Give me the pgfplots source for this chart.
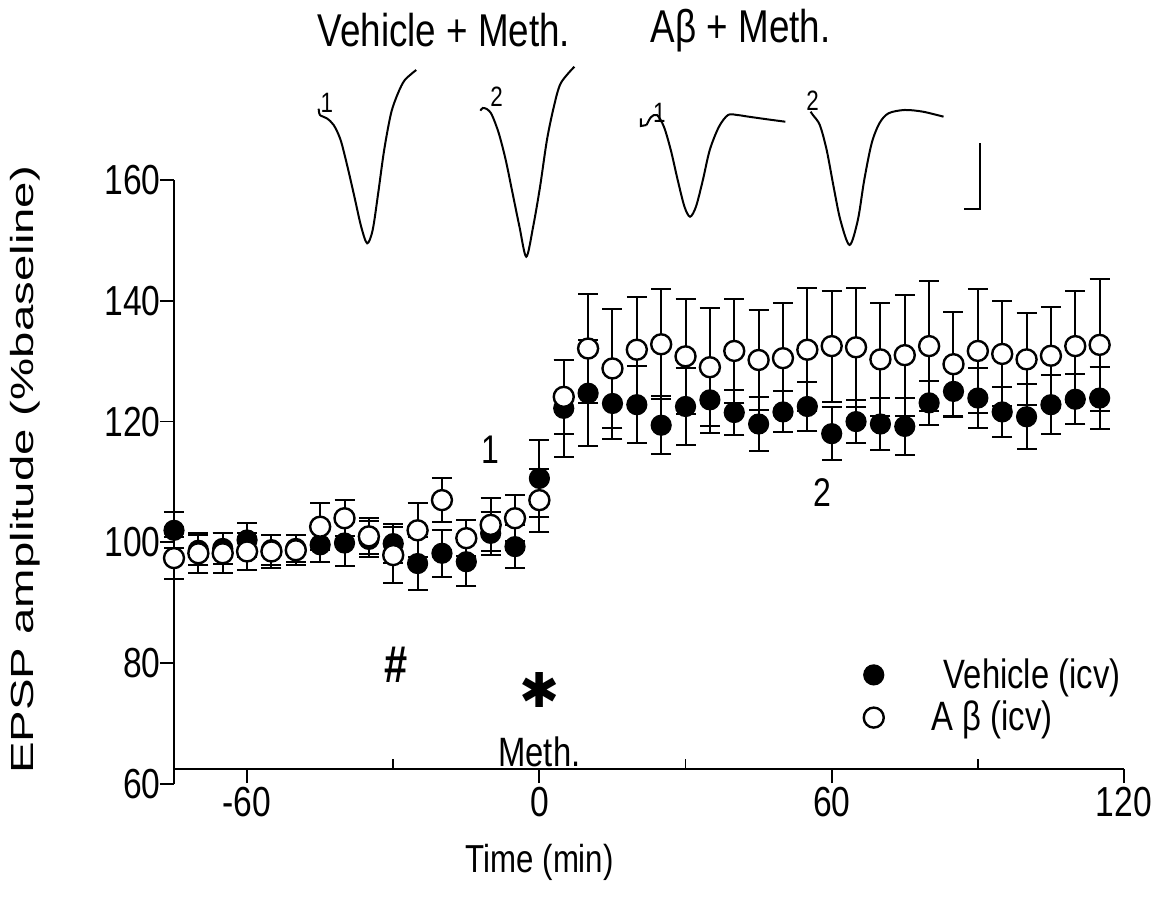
\documentclass[border=0pt]{standalone}
\usepackage{pgfplots}
\usepackage{pgfplotstable}
\pgfplotsset{compat=1.18}
\usepackage{fontspec}
\setmainfont{Liberation Sans}
% narrow (tall-looking) face for horizontal text, wide face for the rotated label
\newfontfamily\tf[FakeStretch=0.8]{Liberation Sans}
\newfontfamily\vf[FakeStretch=1.48]{Liberation Sans}
\newfontfamily\symf{DejaVu Sans}

% time (min), mean EPSP amplitude (% baseline), s.e.m.
\pgfplotstableread{
t    y     e
-75  102.0 3.0
-70  98.7  2.5
-65  99.0  2.5
-60  100.4 2.8
-55  98.8  2.5
-50  99.0  2.2
-45  99.6  2.8
-40  99.9  3.8
-35  100.5 3.0
-30  99.8  3.2
-25  96.5  4.4
-20  98.2  3.9
-15  96.8  4.1
-10  101.5 3.6
-5   99.3  3.5
0    110.6 6.4
5    122.2 8.0
10   124.7 8.8
15   123.0 5.8
20   122.8 6.4
25   119.4 4.8
30   122.5 6.4
35   123.6 5.5
40   121.5 3.7
45   119.6 4.4
50   121.6 3.4
55   122.5 4.0
60   118.0 4.4
65   120.0 3.6
70   119.6 4.3
75   119.2 4.7
80   123.1 3.7
85   125.0 4.3
90   123.9 4.9
95   121.6 4.1
100  120.8 5.4
105  122.8 4.9
110  123.7 4.1
115  123.9 5.2
}\vehicle

\pgfplotstableread{
t    y     e
-75  97.4  3.5
-70  98.2  3.3
-65  98.2  3.3
-60  98.5  3.0
-55  98.5  2.8
-50  98.7  2.5
-45  102.6 3.9
-40  104.0 3.0
-35  101.0 3.0
-30  97.9  4.6
-25  102.0 4.5
-20  107.0 3.7
-15  100.7 3.0
-10  102.9 4.4
-5   104.0 3.8
0    107.0 5.2
5    124.1 6.1
10   132.1 9.1
15   128.8 9.8
20   131.9 8.8
25   132.8 9.1
30   130.8 9.5
35   129.0 9.8
40   131.7 8.6
45   130.2 8.2
50   130.5 9.2
55   131.9 10.2
60   132.5 9.2
65   132.3 9.9
70   130.3 9.3
75   131.0 10.0
80   132.5 10.7
85   129.5 8.6
90   131.7 10.2
95   131.2 8.7
100  130.3 7.6
105  130.9 8.1
110  132.5 9.2
115  132.7 10.9
}\abeta

\begin{document}
\begin{tikzpicture}
\begin{axis}[
  name=ax,
  scale only axis, width=475pt, height=302pt,
  xmin=-75, xmax=120, ymin=60, ymax=160,
  axis lines=left,
  axis line style={-, line width=0.9pt},
  axis x line shift=-7.5pt,
  xtick={-60,0,60,120},
  ytick={60,80,...,160},
  extra x ticks={-30,30,90},
  extra x tick labels={},
  extra x tick style={tick align=inside, major tick length=5pt},
  tick align=outside,
  major tick length=7pt,
  tick style={line width=0.9pt, black},
  clip=false,
  /pgf/number format/assume math mode=true,
  ticklabel style={font=\tf\fontsize{21}{24}\selectfont},
  yticklabel style={inner sep=1pt, xshift=1.5pt},
  xticklabel style={inner sep=2pt},
  xlabel={Time (min)},
  ylabel={EPSP amplitude (\%baseline)},
  every axis x label/.style={at={(axis description cs:0.385,0)}, anchor=north,
    yshift=-30pt, inner sep=0pt, font=\tf\fontsize{19.5}{24}\selectfont},
  every axis y label/.style={at={(axis description cs:-0.157,0.52)}, rotate=90,
    anchor=center, inner sep=0pt, font=\vf\fontsize{16}{18}\selectfont},
  legend style={at={(axis cs:66.5,81.5)}, anchor=north west, draw=none, fill=none,
    font=\tf\fontsize{20.5}{24}\selectfont, inner sep=0pt, row sep=1pt,
    /tikz/column sep=22pt},
  legend cell align=left,
  legend image code/.code={\draw[#1] plot coordinates {(0pt,0pt)};},
]

% recording traces above the time course (sample 1 and 2 of each group)
\addplot[black, line width=1pt, smooth, tension=0.5, mark=none, forget plot] coordinates {
  (-45.3,171.8) (-45.04,170.76) (-43.63,170.21) (-42.22,169.10) (-40.80,166.62)
  (-39.39,162.20) (-37.97,157.23) (-36.58,152.27) (-35.35,149.52) (-34.22,151.72)
  (-33.09,157.80) (-31.86,164.97) (-30.45,171.04) (-29.03,174.35) (-27.62,176.55)
  (-25.28,178.21)};
\addplot[black, line width=1pt, smooth, tension=0.5, mark=none, forget plot] coordinates {
  (-12.10,171.47) (-11.63,171.92) (-10.69,171.70) (-9.74,170.76) (-8.33,167.73)
  (-6.91,163.31) (-5.50,157.80) (-4.09,152.27) (-2.69,147.30) (-1.28,152.27)
  (0.14,158.89) (1.55,166.62) (2.97,172.13) (4.38,176.01) (7.19,178.76)};
\addplot[black, line width=1pt, mark=none, forget plot] coordinates {
  (20.84,170.2) (20.84,168.94) (22.0,169.1)};
\addplot[black, line width=1pt, smooth, tension=0.5, mark=none, forget plot] coordinates {
  (22.0,169.1) (22.9,170.4) (24.14,170.76) (25.56,168.82) (26.97,164.97)
  (28.39,160.00) (29.78,155.58) (30.93,153.92) (32.14,155.58) (33.56,160.00)
  (34.97,164.97) (36.86,168.82) (38.72,170.76) (40.61,170.76) (42.96,170.48)
  (46.74,170.05) (50.49,169.65)};
\addplot[black, line width=1pt, smooth, tension=0.5, mark=none, forget plot] coordinates {
  (55.67,171.31) (56.14,170.76) (57.56,169.10) (58.97,164.97) (60.39,158.89)
  (61.78,153.38) (63.67,149.24) (65.37,153.38) (66.68,160.00) (68.20,166.07)
  (69.80,169.39) (71.66,171.04) (74.96,171.59) (78.72,171.31) (82.96,170.48)};
% scale bar
\addplot[black, line width=1pt, mark=none, forget plot] coordinates {
  (87.2,155.15) (90.5,155.15) (90.5,166.07)};

% time course
\addplot[only marks, mark=*, mark size=5pt, black,
  mark options={fill=black, draw=black, line width=0.6pt},
  error bars/.cd, y dir=both, y explicit,
  error bar style={line width=1pt, black},
  error mark options={rotate=90, mark size=5pt, line width=1pt, black}]
  table[x=t, y=y, y error=e] {\vehicle};
\addlegendentry{\hspace{6pt}Vehicle (icv)}

\addplot[only marks, mark=*, mark size=5pt, black,
  mark options={fill=white, draw=black, line width=1.2pt},
  error bars/.cd, y dir=both, y explicit,
  error bar style={line width=1pt, black},
  error mark options={rotate=90, mark size=5pt, line width=1pt, black}]
  table[x=t, y=y, y error=e] {\abeta};
\addlegendentry{A β (icv)}

% labels inside the plot
\node[font=\tf\fontsize{23}{26}\selectfont, inner sep=0pt] at (axis cs:-19.6,184.8) {Vehicle + Meth.};
\node[font=\tf\fontsize{23}{26}\selectfont, inner sep=0pt] at (axis cs:41.3,184.8) {Aβ + Meth.};
\node[font=\tf\fontsize{14}{16}\selectfont, inner sep=0pt] at (axis cs:-43.6,172.7) {1};
\node[font=\tf\fontsize{14}{16}\selectfont, inner sep=0pt] at (axis cs:-8.8,173.8) {2};
\node[font=\tf\fontsize{14}{16}\selectfont, inner sep=0pt] at (axis cs:24.6,171.1) {1};
\node[font=\tf\fontsize{14}{16}\selectfont, inner sep=0pt] at (axis cs:56.1,173.2) {2};
\node[font=\tf\fontsize{20}{24}\selectfont, inner sep=0pt] at (axis cs:-10,115.3) {1};
\node[font=\tf\fontsize{20}{24}\selectfont, inner sep=0pt] at (axis cs:58,108.3) {2};
\node[font=\tf\bfseries\fontsize{26}{30}\selectfont, inner sep=0pt] at (axis cs:-29.5,79.7) {\#};
\node[font=\symf\fontsize{24}{26}\selectfont, inner sep=0pt] at (axis cs:0,75.6) {✱};
\node[font=\tf\fontsize{20.5}{24}\selectfont, inner sep=0pt] at (axis cs:0,65.4) {Meth.};
\end{axis}
\pgfresetboundingbox
\path[use as bounding box] ([shift={(-87pt,-65.5pt)}]ax.south west)
  rectangle ([shift={(498.5pt,392pt)}]ax.south west);
\end{tikzpicture}
\end{document}
